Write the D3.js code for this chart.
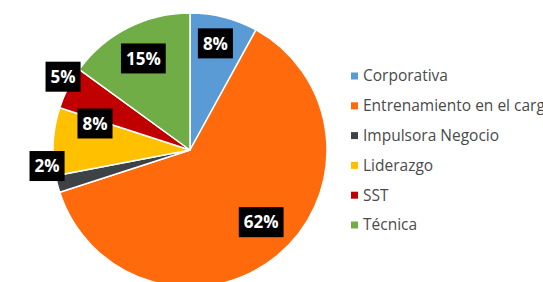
<!DOCTYPE html>
<html>
<head>
<meta charset="utf-8">
<script src="https://cdn.jsdelivr.net/npm/d3@7"></script>
<style>
  html, body { margin: 0; padding: 0; background: #fff; overflow: hidden; }
  svg { display: block; }
</style>
</head>
<body>
<div id="chart"></div>
<script>
// data (clockwise from 12 o'clock)
const categories = ['Corporativa', 'Entrenamiento en el cargo', 'Impulsora Negocio', 'Liderazgo', 'SST', 'Técnica'];
const shares = [8, 62, 2, 8, 5, 15];
const colors = ['#5b9bd5', '#ff6a0d', '#3d4247', '#ffc000', '#c00000', '#70ad47'];

const width = 543, height = 282;
const cx = 190, cy = 150, R = 137;

// label placement tweaks (Excel "best fit" look): radius factor, angle shift in degrees
const labelPlace = {
  'Corporativa': { k: 0.80, da: -1 },
  'Entrenamiento en el cargo': { k: 0.74, da: -5 },
  'Impulsora Negocio': { k: 1.05, da: 8 },
  'Liderazgo': { k: 0.72, da: 12 },
  'SST': { k: 1.07, da: 3 },
  'Técnica': { k: 0.75, da: 0 }
};

const data = categories.map((c, i) => ({ name: c, value: shares[i], color: colors[i] }));

const svg = d3.select('#chart').append('svg')
  .attr('width', width)
  .attr('height', height);

const pie = d3.pie().value(d => d.value).sort(null);
const arcs = pie(data);
const arc = d3.arc().innerRadius(0).outerRadius(R);

const g = svg.append('g').attr('transform', `translate(${cx},${cy})`);

g.selectAll('path.slice')
  .data(arcs)
  .enter().append('path')
  .attr('class', 'slice')
  .attr('d', arc)
  .attr('fill', d => d.data.color)
  .attr('stroke', '#fff')
  .attr('stroke-width', 1.5)
  .attr('stroke-linejoin', 'round');

// percentage labels in black boxes
const labels = g.selectAll('g.lbl')
  .data(arcs)
  .enter().append('g')
  .attr('class', 'lbl')
  .attr('transform', d => {
    const p = labelPlace[d.data.name];
    const mid = (d.startAngle + d.endAngle) / 2 + p.da * Math.PI / 180;
    const r = R * p.k;
    return `translate(${r * Math.sin(mid)},${-r * Math.cos(mid)})`;
  });

labels.append('text')
  .attr('text-anchor', 'middle')
  .attr('dy', '0.36em')
  .attr('fill', '#fff')
  .style('font-family', '"Open Sans", "DejaVu Sans", sans-serif')
  .style('font-weight', 'bold')
  .style('font-size', '17px')
  .text(d => d.data.value + '%')
  .each(function () {
    const bb = this.getBBox();
    d3.select(this.parentNode).insert('rect', 'text')
      .attr('x', bb.x - 5)
      .attr('y', -15)
      .attr('width', bb.width + 10)
      .attr('height', 30)
      .attr('fill', '#000');
  });

// legend
const legend = svg.append('g').attr('transform', 'translate(351,76)');
const rows = legend.selectAll('g.row')
  .data(data)
  .enter().append('g')
  .attr('class', 'row')
  .attr('transform', (d, i) => `translate(0,${i * 29.8})`);

rows.append('rect')
  .attr('x', 0).attr('y', -3.5)
  .attr('width', 7).attr('height', 7)
  .attr('fill', d => d.color);

rows.append('text')
  .attr('x', 12)
  .attr('dy', '0.35em')
  .attr('fill', '#4a4a4a')
  .style('font-family', '"Open Sans", "Liberation Sans", sans-serif')
  .style('font-size', '15.5px')
  .text(d => d.name);
</script>
</body>
</html>
